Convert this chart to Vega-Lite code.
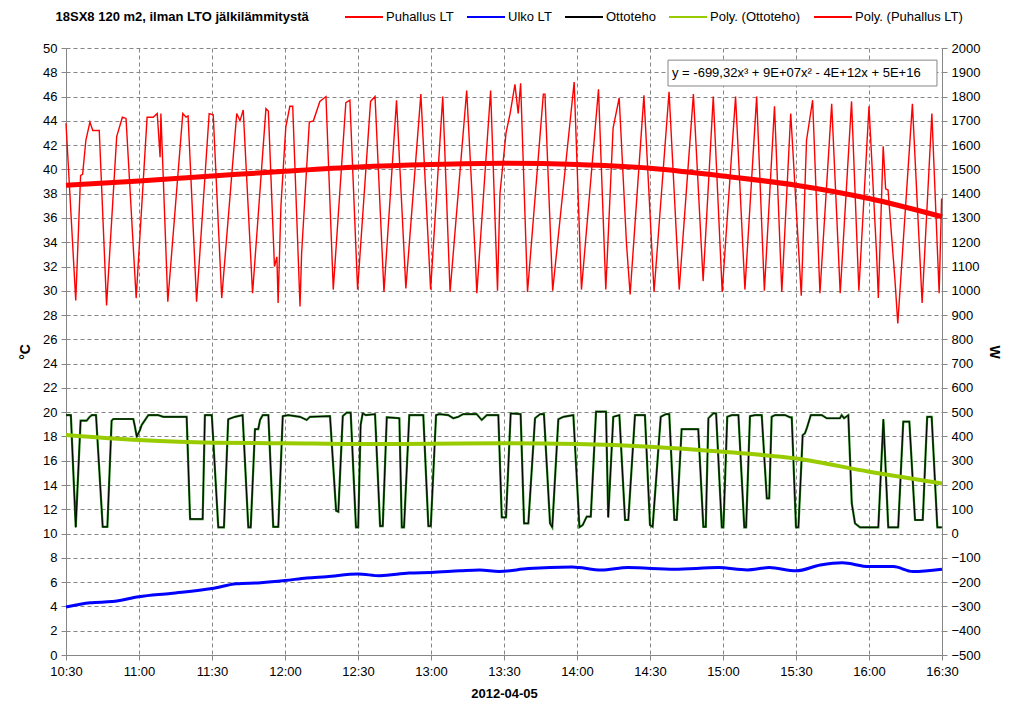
{
  "$schema": "https://vega.github.io/schema/vega-lite/v6.json",
  "width": 876,
  "height": 607,
  "autosize": "none",
  "padding": {"left": 66, "top": 48, "right": 82, "bottom": 69},
  "background": "white",
  "config": {
    "view": {"stroke": null},
    "font": "Liberation Sans",
    "axis": {
      "labelFontSize": 13,
      "labelColor": "#000000",
      "titleColor": "#000000",
      "titleFontSize": 14,
      "titleFontWeight": "bold",
      "domainColor": "#868686",
      "tickColor": "#868686",
      "gridColor": "#868686",
      "gridDash": [4, 3],
      "tickSize": 5
    }
  },
  "title": {
    "text": "18SX8 120 m2, ilman LTO jälkilämmitystä",
    "anchor": "start",
    "fontSize": 13,
    "fontWeight": "bold",
    "color": "#000000",
    "dx": 37,
    "dy": 27,
    "offset": 0
  },
  "datasets": {
    "puhallus": [
      {"t": "2012-04-05T10:30:00", "v": 43.8},
      {"t": "2012-04-05T10:34:00", "v": 29.2},
      {"t": "2012-04-05T10:36:00", "v": 39.5},
      {"t": "2012-04-05T10:36:50", "v": 39.6},
      {"t": "2012-04-05T10:38:10", "v": 42.4},
      {"t": "2012-04-05T10:39:50", "v": 43.9},
      {"t": "2012-04-05T10:41:00", "v": 43.2},
      {"t": "2012-04-05T10:43:40", "v": 43.2},
      {"t": "2012-04-05T10:46:40", "v": 28.8},
      {"t": "2012-04-05T10:50:50", "v": 42.7},
      {"t": "2012-04-05T10:53:10", "v": 44.3},
      {"t": "2012-04-05T10:54:40", "v": 44.2},
      {"t": "2012-04-05T10:58:50", "v": 29.4},
      {"t": "2012-04-05T11:03:20", "v": 44.3},
      {"t": "2012-04-05T11:05:50", "v": 44.3},
      {"t": "2012-04-05T11:07:30", "v": 44.6},
      {"t": "2012-04-05T11:08:40", "v": 41.0},
      {"t": "2012-04-05T11:09:00", "v": 44.6},
      {"t": "2012-04-05T11:11:50", "v": 29.1},
      {"t": "2012-04-05T11:18:00", "v": 44.6},
      {"t": "2012-04-05T11:19:20", "v": 44.3},
      {"t": "2012-04-05T11:20:10", "v": 44.4},
      {"t": "2012-04-05T11:23:40", "v": 29.1},
      {"t": "2012-04-05T11:28:50", "v": 44.6},
      {"t": "2012-04-05T11:30:30", "v": 44.5},
      {"t": "2012-04-05T11:34:00", "v": 29.4},
      {"t": "2012-04-05T11:40:10", "v": 44.6},
      {"t": "2012-04-05T11:41:30", "v": 44.0},
      {"t": "2012-04-05T11:42:50", "v": 44.9},
      {"t": "2012-04-05T11:46:40", "v": 29.8},
      {"t": "2012-04-05T11:52:10", "v": 45.0},
      {"t": "2012-04-05T11:53:10", "v": 44.8},
      {"t": "2012-04-05T11:55:40", "v": 32.0},
      {"t": "2012-04-05T11:56:40", "v": 32.8},
      {"t": "2012-04-05T11:57:10", "v": 29.0},
      {"t": "2012-04-05T11:58:20", "v": 37.0},
      {"t": "2012-04-05T12:00:20", "v": 43.5},
      {"t": "2012-04-05T12:02:00", "v": 45.2},
      {"t": "2012-04-05T12:03:10", "v": 45.2},
      {"t": "2012-04-05T12:05:30", "v": 32.4},
      {"t": "2012-04-05T12:06:10", "v": 28.7},
      {"t": "2012-04-05T12:06:50", "v": 33.1},
      {"t": "2012-04-05T12:10:00", "v": 43.9},
      {"t": "2012-04-05T12:11:40", "v": 44.0},
      {"t": "2012-04-05T12:14:20", "v": 45.6},
      {"t": "2012-04-05T12:16:50", "v": 46.0},
      {"t": "2012-04-05T12:19:50", "v": 30.1},
      {"t": "2012-04-05T12:25:00", "v": 45.5},
      {"t": "2012-04-05T12:26:40", "v": 45.7},
      {"t": "2012-04-05T12:29:50", "v": 30.1},
      {"t": "2012-04-05T12:35:10", "v": 45.6},
      {"t": "2012-04-05T12:37:00", "v": 46.0},
      {"t": "2012-04-05T12:40:40", "v": 29.9},
      {"t": "2012-04-05T12:45:50", "v": 45.7},
      {"t": "2012-04-05T12:49:40", "v": 30.2},
      {"t": "2012-04-05T12:55:50", "v": 46.2},
      {"t": "2012-04-05T12:59:50", "v": 30.1},
      {"t": "2012-04-05T13:04:50", "v": 46.0},
      {"t": "2012-04-05T13:07:50", "v": 29.9},
      {"t": "2012-04-05T13:14:40", "v": 46.5},
      {"t": "2012-04-05T13:18:10", "v": 32.9},
      {"t": "2012-04-05T13:18:50", "v": 29.8},
      {"t": "2012-04-05T13:24:30", "v": 46.5},
      {"t": "2012-04-05T13:27:20", "v": 30.0},
      {"t": "2012-04-05T13:28:20", "v": 38.0},
      {"t": "2012-04-05T13:30:50", "v": 43.0},
      {"t": "2012-04-05T13:32:30", "v": 44.6},
      {"t": "2012-04-05T13:34:30", "v": 47.0},
      {"t": "2012-04-05T13:35:50", "v": 44.6},
      {"t": "2012-04-05T13:36:50", "v": 47.1},
      {"t": "2012-04-05T13:39:40", "v": 29.9},
      {"t": "2012-04-05T13:46:10", "v": 46.2},
      {"t": "2012-04-05T13:46:50", "v": 46.2},
      {"t": "2012-04-05T13:50:00", "v": 30.0},
      {"t": "2012-04-05T13:58:50", "v": 47.2},
      {"t": "2012-04-05T14:01:50", "v": 30.1},
      {"t": "2012-04-05T14:08:50", "v": 46.6},
      {"t": "2012-04-05T14:11:50", "v": 30.1},
      {"t": "2012-04-05T14:14:50", "v": 43.4},
      {"t": "2012-04-05T14:17:20", "v": 45.9},
      {"t": "2012-04-05T14:20:20", "v": 33.9},
      {"t": "2012-04-05T14:21:50", "v": 29.7},
      {"t": "2012-04-05T14:27:30", "v": 46.1},
      {"t": "2012-04-05T14:31:40", "v": 29.9},
      {"t": "2012-04-05T14:37:50", "v": 46.4},
      {"t": "2012-04-05T14:42:00", "v": 30.1},
      {"t": "2012-04-05T14:47:50", "v": 46.2},
      {"t": "2012-04-05T14:51:50", "v": 30.8},
      {"t": "2012-04-05T14:56:00", "v": 46.0},
      {"t": "2012-04-05T14:59:40", "v": 29.9},
      {"t": "2012-04-05T15:05:10", "v": 46.0},
      {"t": "2012-04-05T15:09:00", "v": 30.1},
      {"t": "2012-04-05T15:13:50", "v": 46.0},
      {"t": "2012-04-05T15:17:00", "v": 30.0},
      {"t": "2012-04-05T15:21:10", "v": 45.2},
      {"t": "2012-04-05T15:24:10", "v": 29.9},
      {"t": "2012-04-05T15:27:50", "v": 44.6},
      {"t": "2012-04-05T15:32:10", "v": 29.6},
      {"t": "2012-04-05T15:34:20", "v": 42.4},
      {"t": "2012-04-05T15:36:50", "v": 45.7},
      {"t": "2012-04-05T15:39:50", "v": 29.8},
      {"t": "2012-04-05T15:44:40", "v": 45.4},
      {"t": "2012-04-05T15:48:10", "v": 29.8},
      {"t": "2012-04-05T15:52:50", "v": 45.6},
      {"t": "2012-04-05T15:55:50", "v": 30.0},
      {"t": "2012-04-05T16:00:00", "v": 45.2},
      {"t": "2012-04-05T16:03:10", "v": 32.8},
      {"t": "2012-04-05T16:03:50", "v": 29.4},
      {"t": "2012-04-05T16:05:50", "v": 41.9},
      {"t": "2012-04-05T16:06:50", "v": 38.4},
      {"t": "2012-04-05T16:07:50", "v": 38.3},
      {"t": "2012-04-05T16:10:40", "v": 30.9},
      {"t": "2012-04-05T16:11:50", "v": 27.3},
      {"t": "2012-04-05T16:17:50", "v": 45.4},
      {"t": "2012-04-05T16:21:50", "v": 29.0},
      {"t": "2012-04-05T16:25:50", "v": 44.6},
      {"t": "2012-04-05T16:28:50", "v": 29.8},
      {"t": "2012-04-05T16:29:50", "v": 37.6}
    ],
    "ulko": [
      {"t": "2012-04-05T10:30:00", "v": 3.95},
      {"t": "2012-04-05T10:40:00", "v": 4.3},
      {"t": "2012-04-05T10:49:00", "v": 4.4},
      {"t": "2012-04-05T11:00:00", "v": 4.8},
      {"t": "2012-04-05T11:13:00", "v": 5.07},
      {"t": "2012-04-05T11:30:00", "v": 5.47},
      {"t": "2012-04-05T11:40:00", "v": 5.87},
      {"t": "2012-04-05T11:50:00", "v": 5.95},
      {"t": "2012-04-05T12:00:00", "v": 6.13},
      {"t": "2012-04-05T12:09:00", "v": 6.35},
      {"t": "2012-04-05T12:17:00", "v": 6.45},
      {"t": "2012-04-05T12:30:00", "v": 6.67},
      {"t": "2012-04-05T12:39:00", "v": 6.53},
      {"t": "2012-04-05T12:51:00", "v": 6.75},
      {"t": "2012-04-05T13:00:00", "v": 6.8},
      {"t": "2012-04-05T13:12:00", "v": 6.93},
      {"t": "2012-04-05T13:20:00", "v": 7.0},
      {"t": "2012-04-05T13:28:00", "v": 6.88},
      {"t": "2012-04-05T13:40:00", "v": 7.12},
      {"t": "2012-04-05T13:58:00", "v": 7.25},
      {"t": "2012-04-05T14:10:00", "v": 7.0},
      {"t": "2012-04-05T14:21:00", "v": 7.2},
      {"t": "2012-04-05T14:40:00", "v": 7.07},
      {"t": "2012-04-05T14:58:00", "v": 7.2},
      {"t": "2012-04-05T15:10:00", "v": 7.01},
      {"t": "2012-04-05T15:19:00", "v": 7.2},
      {"t": "2012-04-05T15:30:00", "v": 6.93},
      {"t": "2012-04-05T15:40:00", "v": 7.41},
      {"t": "2012-04-05T15:49:00", "v": 7.6},
      {"t": "2012-04-05T16:00:00", "v": 7.28},
      {"t": "2012-04-05T16:10:00", "v": 7.28},
      {"t": "2012-04-05T16:18:00", "v": 6.88},
      {"t": "2012-04-05T16:30:00", "v": 7.07}
    ],
    "polyPuhallus": [
      {"t": "2012-04-05T10:30:00", "v": 38.7},
      {"t": "2012-04-05T11:00:00", "v": 39.05},
      {"t": "2012-04-05T11:30:00", "v": 39.45},
      {"t": "2012-04-05T12:00:00", "v": 39.85},
      {"t": "2012-04-05T12:30:00", "v": 40.2},
      {"t": "2012-04-05T13:00:00", "v": 40.4},
      {"t": "2012-04-05T13:30:00", "v": 40.5},
      {"t": "2012-04-05T14:00:00", "v": 40.4},
      {"t": "2012-04-05T14:30:00", "v": 40.1},
      {"t": "2012-04-05T15:00:00", "v": 39.45},
      {"t": "2012-04-05T15:30:00", "v": 38.7},
      {"t": "2012-04-05T16:00:00", "v": 37.6},
      {"t": "2012-04-05T16:30:00", "v": 36.1}
    ],
    "ottoteho": [
      {"t": "2012-04-05T10:30:00", "w": 488},
      {"t": "2012-04-05T10:32:00", "w": 488},
      {"t": "2012-04-05T10:34:00", "w": 26},
      {"t": "2012-04-05T10:36:00", "w": 465},
      {"t": "2012-04-05T10:38:30", "w": 465},
      {"t": "2012-04-05T10:39:35", "w": 479},
      {"t": "2012-04-05T10:40:35", "w": 488},
      {"t": "2012-04-05T10:42:20", "w": 488},
      {"t": "2012-04-05T10:45:05", "w": 28},
      {"t": "2012-04-05T10:47:00", "w": 28},
      {"t": "2012-04-05T10:48:45", "w": 465},
      {"t": "2012-04-05T10:49:25", "w": 472},
      {"t": "2012-04-05T10:57:40", "w": 472},
      {"t": "2012-04-05T10:58:20", "w": 440},
      {"t": "2012-04-05T10:59:05", "w": 399},
      {"t": "2012-04-05T11:00:25", "w": 427},
      {"t": "2012-04-05T11:01:05", "w": 447},
      {"t": "2012-04-05T11:03:50", "w": 488},
      {"t": "2012-04-05T11:07:55", "w": 488},
      {"t": "2012-04-05T11:10:00", "w": 481},
      {"t": "2012-04-05T11:19:35", "w": 481},
      {"t": "2012-04-05T11:21:00", "w": 60},
      {"t": "2012-04-05T11:26:10", "w": 60},
      {"t": "2012-04-05T11:27:05", "w": 488},
      {"t": "2012-04-05T11:29:55", "w": 488},
      {"t": "2012-04-05T11:32:35", "w": 26},
      {"t": "2012-04-05T11:34:55", "w": 26},
      {"t": "2012-04-05T11:36:40", "w": 471},
      {"t": "2012-04-05T11:39:25", "w": 481},
      {"t": "2012-04-05T11:42:35", "w": 488},
      {"t": "2012-04-05T11:44:55", "w": 26},
      {"t": "2012-04-05T11:45:55", "w": 26},
      {"t": "2012-04-05T11:47:40", "w": 430},
      {"t": "2012-04-05T11:49:00", "w": 430},
      {"t": "2012-04-05T11:49:45", "w": 468},
      {"t": "2012-04-05T11:50:50", "w": 488},
      {"t": "2012-04-05T11:53:10", "w": 488},
      {"t": "2012-04-05T11:55:10", "w": 28},
      {"t": "2012-04-05T11:57:15", "w": 28},
      {"t": "2012-04-05T11:59:05", "w": 484},
      {"t": "2012-04-05T12:01:20", "w": 488},
      {"t": "2012-04-05T12:06:10", "w": 481},
      {"t": "2012-04-05T12:08:55", "w": 468},
      {"t": "2012-04-05T12:10:15", "w": 481},
      {"t": "2012-04-05T12:18:30", "w": 484},
      {"t": "2012-04-05T12:21:00", "w": 94},
      {"t": "2012-04-05T12:21:55", "w": 90},
      {"t": "2012-04-05T12:23:45", "w": 484},
      {"t": "2012-04-05T12:25:20", "w": 498},
      {"t": "2012-04-05T12:27:00", "w": 498},
      {"t": "2012-04-05T12:29:10", "w": 26},
      {"t": "2012-04-05T12:30:05", "w": 26},
      {"t": "2012-04-05T12:31:05", "w": 447},
      {"t": "2012-04-05T12:31:55", "w": 495},
      {"t": "2012-04-05T12:33:15", "w": 488},
      {"t": "2012-04-05T12:37:00", "w": 492},
      {"t": "2012-04-05T12:39:05", "w": 31},
      {"t": "2012-04-05T12:40:10", "w": 31},
      {"t": "2012-04-05T12:41:50", "w": 479},
      {"t": "2012-04-05T12:47:00", "w": 475},
      {"t": "2012-04-05T12:48:00", "w": 26},
      {"t": "2012-04-05T12:48:55", "w": 26},
      {"t": "2012-04-05T12:51:05", "w": 488},
      {"t": "2012-04-05T12:56:50", "w": 488},
      {"t": "2012-04-05T12:58:55", "w": 31},
      {"t": "2012-04-05T12:59:55", "w": 31},
      {"t": "2012-04-05T13:02:05", "w": 488},
      {"t": "2012-04-05T13:03:25", "w": 492},
      {"t": "2012-04-05T13:07:05", "w": 488},
      {"t": "2012-04-05T13:09:10", "w": 475},
      {"t": "2012-04-05T13:11:15", "w": 481},
      {"t": "2012-04-05T13:13:15", "w": 492},
      {"t": "2012-04-05T13:18:45", "w": 492},
      {"t": "2012-04-05T13:20:50", "w": 468},
      {"t": "2012-04-05T13:22:55", "w": 488},
      {"t": "2012-04-05T13:27:40", "w": 488},
      {"t": "2012-04-05T13:29:05", "w": 67},
      {"t": "2012-04-05T13:30:50", "w": 67},
      {"t": "2012-04-05T13:32:45", "w": 495},
      {"t": "2012-04-05T13:36:50", "w": 492},
      {"t": "2012-04-05T13:38:15", "w": 42},
      {"t": "2012-04-05T13:40:00", "w": 42},
      {"t": "2012-04-05T13:42:45", "w": 475},
      {"t": "2012-04-05T13:44:50", "w": 492},
      {"t": "2012-04-05T13:46:25", "w": 492},
      {"t": "2012-04-05T13:48:55", "w": 42},
      {"t": "2012-04-05T13:49:50", "w": 26},
      {"t": "2012-04-05T13:52:20", "w": 471},
      {"t": "2012-04-05T13:54:25", "w": 481},
      {"t": "2012-04-05T13:58:30", "w": 488},
      {"t": "2012-04-05T14:01:00", "w": 26},
      {"t": "2012-04-05T14:02:20", "w": 35},
      {"t": "2012-04-05T14:04:00", "w": 70},
      {"t": "2012-04-05T14:05:40", "w": 70},
      {"t": "2012-04-05T14:07:50", "w": 502},
      {"t": "2012-04-05T14:11:55", "w": 502},
      {"t": "2012-04-05T14:12:50", "w": 67},
      {"t": "2012-04-05T14:14:55", "w": 481},
      {"t": "2012-04-05T14:17:25", "w": 488},
      {"t": "2012-04-05T14:19:45", "w": 56},
      {"t": "2012-04-05T14:21:05", "w": 56},
      {"t": "2012-04-05T14:23:50", "w": 488},
      {"t": "2012-04-05T14:27:55", "w": 488},
      {"t": "2012-04-05T14:30:00", "w": 35},
      {"t": "2012-04-05T14:31:05", "w": 28},
      {"t": "2012-04-05T14:34:25", "w": 481},
      {"t": "2012-04-05T14:36:35", "w": 492},
      {"t": "2012-04-05T14:37:55", "w": 492},
      {"t": "2012-04-05T14:40:00", "w": 56},
      {"t": "2012-04-05T14:41:00", "w": 56},
      {"t": "2012-04-05T14:43:00", "w": 430},
      {"t": "2012-04-05T14:49:50", "w": 430},
      {"t": "2012-04-05T14:51:55", "w": 28},
      {"t": "2012-04-05T14:52:55", "w": 28},
      {"t": "2012-04-05T14:54:00", "w": 475},
      {"t": "2012-04-05T14:56:00", "w": 495},
      {"t": "2012-04-05T14:57:10", "w": 495},
      {"t": "2012-04-05T14:59:30", "w": 26},
      {"t": "2012-04-05T15:00:10", "w": 26},
      {"t": "2012-04-05T15:01:45", "w": 481},
      {"t": "2012-04-05T15:03:35", "w": 488},
      {"t": "2012-04-05T15:06:20", "w": 488},
      {"t": "2012-04-05T15:08:45", "w": 26},
      {"t": "2012-04-05T15:09:30", "w": 26},
      {"t": "2012-04-05T15:11:05", "w": 484},
      {"t": "2012-04-05T15:13:10", "w": 488},
      {"t": "2012-04-05T15:15:55", "w": 488},
      {"t": "2012-04-05T15:18:00", "w": 145},
      {"t": "2012-04-05T15:19:00", "w": 145},
      {"t": "2012-04-05T15:20:00", "w": 481},
      {"t": "2012-04-05T15:21:25", "w": 488},
      {"t": "2012-04-05T15:25:30", "w": 488},
      {"t": "2012-04-05T15:27:35", "w": 479},
      {"t": "2012-04-05T15:28:15", "w": 479},
      {"t": "2012-04-05T15:30:00", "w": 26},
      {"t": "2012-04-05T15:31:00", "w": 26},
      {"t": "2012-04-05T15:32:45", "w": 406},
      {"t": "2012-04-05T15:33:40", "w": 413},
      {"t": "2012-04-05T15:34:25", "w": 433},
      {"t": "2012-04-05T15:36:05", "w": 488},
      {"t": "2012-04-05T15:40:35", "w": 488},
      {"t": "2012-04-05T15:42:35", "w": 475},
      {"t": "2012-04-05T15:48:05", "w": 475},
      {"t": "2012-04-05T15:48:45", "w": 488},
      {"t": "2012-04-05T15:49:45", "w": 475},
      {"t": "2012-04-05T15:51:30", "w": 488},
      {"t": "2012-04-05T15:52:55", "w": 125},
      {"t": "2012-04-05T15:54:15", "w": 42},
      {"t": "2012-04-05T15:56:20", "w": 26},
      {"t": "2012-04-05T16:03:50", "w": 26},
      {"t": "2012-04-05T16:05:55", "w": 471},
      {"t": "2012-04-05T16:07:55", "w": 26},
      {"t": "2012-04-05T16:12:00", "w": 26},
      {"t": "2012-04-05T16:14:05", "w": 461},
      {"t": "2012-04-05T16:16:35", "w": 461},
      {"t": "2012-04-05T16:18:55", "w": 56},
      {"t": "2012-04-05T16:22:05", "w": 56},
      {"t": "2012-04-05T16:23:55", "w": 481},
      {"t": "2012-04-05T16:25:45", "w": 481},
      {"t": "2012-04-05T16:28:05", "w": 26},
      {"t": "2012-04-05T16:29:55", "w": 26}
    ],
    "polyOttoteho": [
      {"t": "2012-04-05T10:30:00", "w": 406},
      {"t": "2012-04-05T11:00:00", "w": 385},
      {"t": "2012-04-05T11:30:00", "w": 374},
      {"t": "2012-04-05T12:00:00", "w": 372},
      {"t": "2012-04-05T12:30:00", "w": 369},
      {"t": "2012-04-05T13:00:00", "w": 370},
      {"t": "2012-04-05T13:30:00", "w": 372},
      {"t": "2012-04-05T14:00:00", "w": 369},
      {"t": "2012-04-05T14:30:00", "w": 358},
      {"t": "2012-04-05T15:00:00", "w": 337},
      {"t": "2012-04-05T15:30:00", "w": 309},
      {"t": "2012-04-05T16:00:00", "w": 255},
      {"t": "2012-04-05T16:30:00", "w": 206}
    ],
    "equation": [
      {"t": "2012-04-05T14:37:24", "t2": "2012-04-05T16:27:56", "top": 49.0, "bottom": 46.87, "mid": 47.9, "label": "y = -699,32x³ + 9E+07x² - 4E+12x + 5E+16"}
    ]
  },
  "layer": [
    {
      "data": {"name": "puhallus"},
      "mark": {"type": "line", "strokeWidth": 1.4},
      "encoding": {
        "x": {
          "field": "t",
          "type": "temporal",
          "scale": {
            "domain": [
              {"year": 2012, "month": 4, "date": 5, "hours": 10, "minutes": 30},
              {"year": 2012, "month": 4, "date": 5, "hours": 16, "minutes": 30}
            ]
          },
          "axis": {
            "title": "2012-04-05",
            "titleFontSize": 13,
            "format": "%H:%M",
            "tickCount": 12,
            "labelFlush": false,
            "grid": true,
            "labelPadding": 5,
            "titlePadding": 9
          }
        },
        "y": {
          "field": "v",
          "type": "quantitative",
          "scale": {"domain": [0, 50], "nice": false},
          "axis": {
            "orient": "left",
            "title": "°C",
            "values": [0, 2, 4, 6, 8, 10, 12, 14, 16, 18, 20, 22, 24, 26, 28, 30, 32, 34, 36, 38, 40, 42, 44, 46, 48, 50],
            "grid": true,
            "labelPadding": 4,
            "titlePadding": 10
          }
        },
        "color": {
          "datum": "Puhallus LT",
          "type": "nominal",
          "scale": {
            "domain": ["Puhallus LT", "Ulko LT", "Ottoteho", "Poly. (Ottoteho)", "Poly. (Puhallus LT)"],
            "range": ["#ff0000", "#0000ff", "#000000", "#99cc00", "#ff0000"]
          },
          "legend": {
            "title": null,
            "orient": "none",
            "legendX": 278,
            "legendY": -51,
            "direction": "horizontal",
            "columns": 5,
            "padding": 0,
            "columnPadding": 9,
            "symbolType": "stroke",
            "symbolSize": 1444,
            "symbolStrokeWidth": 2,
            "labelOffset": 2,
            "labelFontSize": 13,
            "labelColor": "#000000"
          }
        }
      }
    },
    {
      "data": {"name": "ulko"},
      "mark": {"type": "line", "strokeWidth": 3, "interpolate": "monotone"},
      "encoding": {
        "x": {"field": "t", "type": "temporal"},
        "y": {"field": "v", "type": "quantitative", "scale": {"domain": [0, 50], "nice": false}, "axis": null},
        "color": {"datum": "Ulko LT", "type": "nominal"}
      }
    },
    {
      "data": {"name": "polyPuhallus"},
      "mark": {"type": "line", "strokeWidth": 5, "interpolate": "monotone"},
      "encoding": {
        "x": {"field": "t", "type": "temporal"},
        "y": {"field": "v", "type": "quantitative", "scale": {"domain": [0, 50], "nice": false}, "axis": null},
        "color": {"datum": "Poly. (Puhallus LT)", "type": "nominal"}
      }
    },
    {
      "data": {"name": "equation"},
      "mark": {"type": "rect", "fill": "white", "stroke": "#868686", "strokeWidth": 1},
      "encoding": {
        "x": {"field": "t", "type": "temporal"},
        "x2": {"field": "t2"},
        "y": {"field": "top", "type": "quantitative", "scale": {"domain": [0, 50], "nice": false}, "axis": null},
        "y2": {"field": "bottom"}
      }
    },
    {
      "data": {"name": "equation"},
      "mark": {"type": "text", "align": "left", "baseline": "middle", "fontSize": 13, "dx": 4, "color": "#000000"},
      "encoding": {
        "x": {"field": "t", "type": "temporal"},
        "y": {"field": "mid", "type": "quantitative", "scale": {"domain": [0, 50], "nice": false}, "axis": null},
        "text": {"field": "label"}
      }
    },
    {
      "data": {"name": "ottoteho"},
      "mark": {"type": "line", "strokeWidth": 2.2, "color": "#1f7a14"},
      "encoding": {
        "x": {"field": "t", "type": "temporal"},
        "y": {
          "field": "w",
          "type": "quantitative",
          "scale": {"domain": [-500, 2000], "nice": false},
          "axis": {
            "orient": "right",
            "title": "W",
            "format": "d",
            "values": [-500, -400, -300, -200, -100, 0, 100, 200, 300, 400, 500, 600, 700, 800, 900, 1000, 1100, 1200, 1300, 1400, 1500, 1600, 1700, 1800, 1900, 2000],
            "grid": false,
            "labelPadding": 4,
            "titlePadding": 6
          }
        }
      }
    },
    {
      "data": {"name": "ottoteho"},
      "mark": {"type": "line", "strokeWidth": 1},
      "encoding": {
        "x": {"field": "t", "type": "temporal"},
        "y": {"field": "w", "type": "quantitative", "scale": {"domain": [-500, 2000], "nice": false}, "axis": null},
        "color": {"datum": "Ottoteho", "type": "nominal"}
      }
    },
    {
      "data": {"name": "polyOttoteho"},
      "mark": {"type": "line", "strokeWidth": 4, "interpolate": "monotone"},
      "encoding": {
        "x": {"field": "t", "type": "temporal"},
        "y": {"field": "w", "type": "quantitative", "scale": {"domain": [-500, 2000], "nice": false}, "axis": null},
        "color": {"datum": "Poly. (Ottoteho)", "type": "nominal"}
      }
    }
  ],
  "resolve": {"scale": {"y": "independent"}}
}
